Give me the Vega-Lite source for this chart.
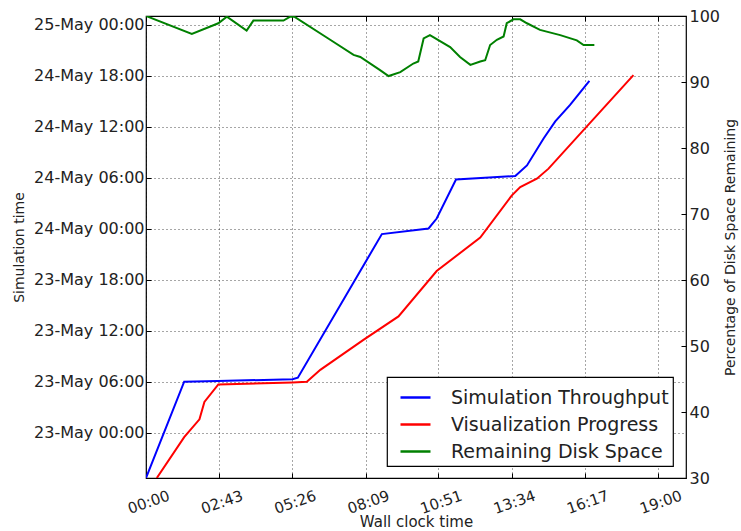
{
  "$schema": "https://vega.github.io/schema/vega-lite/v6.json",
  "width": 540,
  "height": 462,
  "autosize": {"type": "none"},
  "padding": {"left": 146, "top": 16, "right": 55, "bottom": 53},
  "background": "#ffffff",
  "datasets": {
    "progress": [
      {"series": "Simulation Throughput", "clock": 0, "sim": -5.33},
      {"series": "Simulation Throughput", "clock": 85, "sim": 6.0},
      {"series": "Simulation Throughput", "clock": 160, "sim": 6.07},
      {"series": "Simulation Throughput", "clock": 326, "sim": 6.3},
      {"series": "Simulation Throughput", "clock": 338, "sim": 6.47},
      {"series": "Simulation Throughput", "clock": 525, "sim": 23.37},
      {"series": "Simulation Throughput", "clock": 629, "sim": 24.03},
      {"series": "Simulation Throughput", "clock": 647, "sim": 25.2},
      {"series": "Simulation Throughput", "clock": 690, "sim": 29.8},
      {"series": "Simulation Throughput", "clock": 822, "sim": 30.2},
      {"series": "Simulation Throughput", "clock": 848, "sim": 31.45},
      {"series": "Simulation Throughput", "clock": 885, "sim": 34.62},
      {"series": "Simulation Throughput", "clock": 911, "sim": 36.63},
      {"series": "Simulation Throughput", "clock": 944, "sim": 38.57},
      {"series": "Simulation Throughput", "clock": 987, "sim": 41.4},
      {"series": "Visualization Progress", "clock": 24, "sim": -5.33},
      {"series": "Visualization Progress", "clock": 85, "sim": -0.52},
      {"series": "Visualization Progress", "clock": 119, "sim": 1.57},
      {"series": "Visualization Progress", "clock": 130, "sim": 3.62},
      {"series": "Visualization Progress", "clock": 161, "sim": 5.68},
      {"series": "Visualization Progress", "clock": 326, "sim": 5.92},
      {"series": "Visualization Progress", "clock": 358, "sim": 6.0},
      {"series": "Visualization Progress", "clock": 388, "sim": 7.4},
      {"series": "Visualization Progress", "clock": 484, "sim": 10.93},
      {"series": "Visualization Progress", "clock": 562, "sim": 13.68},
      {"series": "Visualization Progress", "clock": 647, "sim": 19.02},
      {"series": "Visualization Progress", "clock": 744, "sim": 22.97},
      {"series": "Visualization Progress", "clock": 814, "sim": 27.9},
      {"series": "Visualization Progress", "clock": 833, "sim": 28.9},
      {"series": "Visualization Progress", "clock": 870, "sim": 29.88},
      {"series": "Visualization Progress", "clock": 896, "sim": 31.07},
      {"series": "Visualization Progress", "clock": 1085, "sim": 42.07}
    ],
    "disk": [
      {"series": "Remaining Disk Space", "clock": 0, "pct": 100},
      {"series": "Remaining Disk Space", "clock": 102, "pct": 97.3},
      {"series": "Remaining Disk Space", "clock": 161, "pct": 98.9},
      {"series": "Remaining Disk Space", "clock": 180, "pct": 99.9},
      {"series": "Remaining Disk Space", "clock": 224, "pct": 97.8},
      {"series": "Remaining Disk Space", "clock": 239, "pct": 99.3},
      {"series": "Remaining Disk Space", "clock": 306, "pct": 99.3},
      {"series": "Remaining Disk Space", "clock": 321, "pct": 99.9},
      {"series": "Remaining Disk Space", "clock": 330, "pct": 99.9},
      {"series": "Remaining Disk Space", "clock": 410, "pct": 96.4},
      {"series": "Remaining Disk Space", "clock": 462, "pct": 94.1},
      {"series": "Remaining Disk Space", "clock": 477, "pct": 93.8},
      {"series": "Remaining Disk Space", "clock": 521, "pct": 91.8},
      {"series": "Remaining Disk Space", "clock": 540, "pct": 90.9},
      {"series": "Remaining Disk Space", "clock": 566, "pct": 91.5},
      {"series": "Remaining Disk Space", "clock": 595, "pct": 92.8},
      {"series": "Remaining Disk Space", "clock": 606, "pct": 93.1},
      {"series": "Remaining Disk Space", "clock": 618, "pct": 96.6},
      {"series": "Remaining Disk Space", "clock": 632, "pct": 97.1},
      {"series": "Remaining Disk Space", "clock": 677, "pct": 95.3},
      {"series": "Remaining Disk Space", "clock": 699, "pct": 93.8},
      {"series": "Remaining Disk Space", "clock": 722, "pct": 92.6},
      {"series": "Remaining Disk Space", "clock": 744, "pct": 93.1},
      {"series": "Remaining Disk Space", "clock": 755, "pct": 93.3},
      {"series": "Remaining Disk Space", "clock": 766, "pct": 95.6},
      {"series": "Remaining Disk Space", "clock": 781, "pct": 96.4},
      {"series": "Remaining Disk Space", "clock": 796, "pct": 96.9},
      {"series": "Remaining Disk Space", "clock": 803, "pct": 98.9},
      {"series": "Remaining Disk Space", "clock": 818, "pct": 99.5},
      {"series": "Remaining Disk Space", "clock": 833, "pct": 99.5},
      {"series": "Remaining Disk Space", "clock": 848, "pct": 98.9},
      {"series": "Remaining Disk Space", "clock": 877, "pct": 97.9},
      {"series": "Remaining Disk Space", "clock": 922, "pct": 97.1},
      {"series": "Remaining Disk Space", "clock": 959, "pct": 96.3},
      {"series": "Remaining Disk Space", "clock": 974, "pct": 95.6},
      {"series": "Remaining Disk Space", "clock": 998, "pct": 95.6}
    ]
  },
  "layer": [
    {
      "data": {"name": "progress"},
      "mark": {"type": "line", "strokeWidth": 2, "clip": true},
      "encoding": {
        "x": {
          "field": "clock",
          "type": "quantitative",
          "scale": {"domain": [0, 1202], "nice": false, "zero": false},
          "axis": {
            "orient": "bottom",
            "title": "Wall clock time",
            "values": [0, 163, 326, 489, 651, 814, 977, 1140],
            "labelExpr": "(floor(datum.value/60) < 10 ? '0' : '') + floor(datum.value/60) + ':' + (datum.value % 60 < 10 ? '0' : '') + (datum.value % 60)",
            "labelAngle": -19,
            "labelAlign": "center",
            "labelBaseline": "top",
            "labelPadding": 22,
            "labelFontSize": 15,
            "tickSize": -5,
            "titleFontSize": 15,
            "titlePadding": -2,
            "grid": true
          }
        },
        "y": {
          "field": "sim",
          "type": "quantitative",
          "scale": {"domain": [-5.33, 49.03], "nice": false, "zero": false},
          "axis": {
            "orient": "left",
            "title": "Simulation time",
            "values": [0, 6, 12, 18, 24, 30, 36, 42, 48],
            "labelExpr": "(23 + floor(datum.value/24)) + '-May ' + ((datum.value % 24) < 10 ? '0' : '') + (datum.value % 24) + ':00'",
            "labelFontSize": 16,
            "labelPadding": 7,
            "tickSize": -5,
            "titleFontSize": 14,
            "titlePadding": 7,
            "grid": true
          }
        },
        "color": {
          "field": "series",
          "type": "nominal",
          "scale": {
            "domain": ["Simulation Throughput", "Visualization Progress", "Remaining Disk Space"],
            "range": ["#0000ff", "#ff0000", "#008000"]
          },
          "legend": {"title": null}
        }
      }
    },
    {
      "data": {"name": "disk"},
      "mark": {"type": "line", "strokeWidth": 2, "clip": true},
      "encoding": {
        "x": {
          "field": "clock",
          "type": "quantitative",
          "axis": {
            "orient": "top",
            "labels": false,
            "title": null,
            "grid": false,
            "values": [0, 163, 326, 489, 651, 814, 977, 1140],
            "tickSize": -5
          }
        },
        "y": {
          "field": "pct",
          "type": "quantitative",
          "scale": {"domain": [30, 100], "nice": false, "zero": false},
          "axis": {
            "orient": "right",
            "title": "Percentage of Disk Space Remaining",
            "values": [30, 40, 50, 60, 70, 80, 90, 100],
            "labelFontSize": 16,
            "labelPadding": 8,
            "tickSize": -5,
            "titleFontSize": 14,
            "titleAngle": 270,
            "titleBaseline": "top",
            "titlePadding": 4,
            "grid": false
          }
        },
        "color": {
          "field": "series",
          "type": "nominal",
          "legend": {"title": null}
        }
      }
    }
  ],
  "resolve": {
    "scale": {"y": "independent"},
    "axis": {"y": "independent", "x": "independent"}
  },
  "config": {
    "font": "DejaVu Sans",
    "view": {"stroke": "#000000", "strokeWidth": 1.2},
    "axis": {
      "labelFont": "DejaVu Sans",
      "titleFont": "DejaVu Sans",
      "labelColor": "#222222",
      "titleColor": "#222222",
      "titleFontWeight": "normal",
      "tickColor": "#000000",
      "tickWidth": 1,
      "domain": false,
      "gridColor": "#000000",
      "gridDash": [1, 3],
      "gridOpacity": 0.7,
      "gridWidth": 1
    },
    "legend": {
      "orient": "none",
      "legendX": 241,
      "legendY": 361,
      "strokeColor": "#000000",
      "strokeWidth": 1.2,
      "fillColor": "#ffffff",
      "padding": 4,
      "cornerRadius": 0,
      "symbolType": "stroke",
      "symbolStrokeWidth": 2.5,
      "symbolSize": 900,
      "symbolOffset": 8,
      "labelFont": "DejaVu Sans",
      "labelFontSize": 19,
      "labelColor": "#222222",
      "labelOffset": 19,
      "labelLimit": 400,
      "rowPadding": -1
    }
  }
}
